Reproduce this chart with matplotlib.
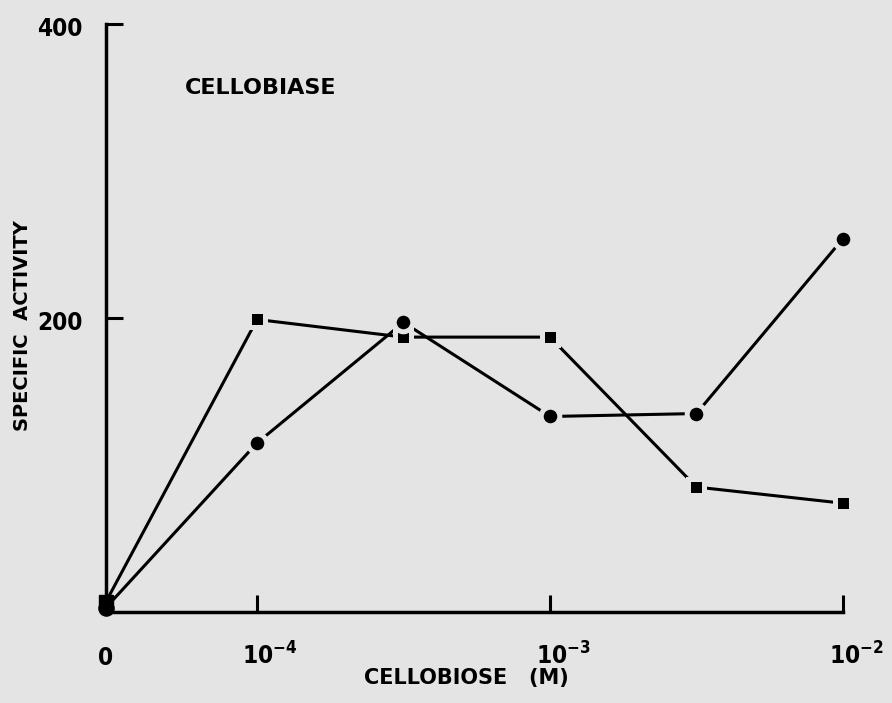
import matplotlib
matplotlib.use("Agg")
import matplotlib.pyplot as plt
from matplotlib.ticker import NullLocator
from matplotlib.transforms import ScaledTranslation

# cellobiose concentration (M) and specific activity for the two series
conc = [0, 1e-4, 3.16e-4, 1e-3, 3.16e-3, 1e-2]
square_activity = [7, 199, 187, 187, 85, 74]
circle_activity = [3, 115, 197, 133, 135, 254]

x_ticks = [0, 1e-4, 1e-3, 1e-2]
x_ticklabels = ["0", r"$10^{-4}$", r"$10^{-3}$", r"$10^{-2}$"]
y_ticks = [200, 400]
y_ticklabels = ["200", "400"]

bg = "#e4e4e4"

plt.rcParams["mathtext.fontset"] = "custom"
for k in ("rm", "it", "bf", "sf"):
    plt.rcParams["mathtext." + k] = "DejaVu Sans:bold:stretch=condensed"

fig = plt.figure(figsize=(8.92, 7.03), dpi=100, facecolor=bg)
ax = fig.add_axes([106 / 892, 1 - 612 / 703, (843 - 106) / 892, (612 - 24) / 703])
ax.set_facecolor(bg)
ax.set_xscale("symlog", linthresh=1e-4, linscale=0.464)
ax.set_xlim(0, 1e-2)
ax.set_ylim(0, 400)

for y, mk, ms in ((square_activity, "s", 12.2), (circle_activity, "o", 13.4)):
    ax.plot(conc, y, color="black", lw=2.2, zorder=2, clip_on=False)
    # bg-coloured edge leaves the little gap between line and marker
    ax.plot(conc[1:], y[1:], ls="none", marker=mk, ms=ms, mfc="black",
            mec=bg, mew=3.6, zorder=3, clip_on=False)
    ax.plot(conc[:1], y[:1], ls="none", marker=mk, ms=ms - 2.5,
            color="black", zorder=3, clip_on=False)

for s in ("top", "right"):
    ax.spines[s].set_visible(False)
for s in ("left", "bottom"):
    ax.spines[s].set_linewidth(2.5)

tick_font = dict(fontsize=17.5, fontfamily="DejaVu Sans", fontweight="bold",
                 fontstretch="condensed")
ax.xaxis.set_minor_locator(NullLocator())
ax.yaxis.set_minor_locator(NullLocator())
ax.set_xticks(x_ticks)
ax.set_xticklabels(x_ticklabels, **tick_font)
ax.set_yticks(y_ticks)
ax.set_yticklabels(y_ticklabels, **tick_font)
ax.tick_params(axis="both", direction="in", length=12.5, width=2.2, color="black")
ax.tick_params(axis="x", pad=38)
ax.tick_params(axis="y", pad=17)

shift = ScaledTranslation(13 / 100, 0, fig.dpi_scale_trans)
for i, lbl in enumerate(ax.get_xticklabels()):
    lbl.set_verticalalignment("baseline")
    if i > 0:
        lbl.set_transform(lbl.get_transform() + shift)
down = ScaledTranslation(0, -3 / 100, fig.dpi_scale_trans)
for lbl in ax.get_yticklabels():
    lbl.set_transform(lbl.get_transform() + down)

fig.text(185 / 892, 1 - 88 / 703, "CELLOBIASE", ha="left", va="center",
         fontsize=16, fontweight="bold")
fig.text(466 / 892, 1 - 678 / 703, "CELLOBIOSE   (M)", ha="center", va="center",
         fontsize=15, fontweight="bold")
fig.text(23 / 892, 1 - 326 / 703, "SPECIFIC  ACTIVITY", rotation=90,
         ha="center", va="center", fontsize=14, fontweight="bold")

fig.savefig("out.png", dpi=100, facecolor=bg)
